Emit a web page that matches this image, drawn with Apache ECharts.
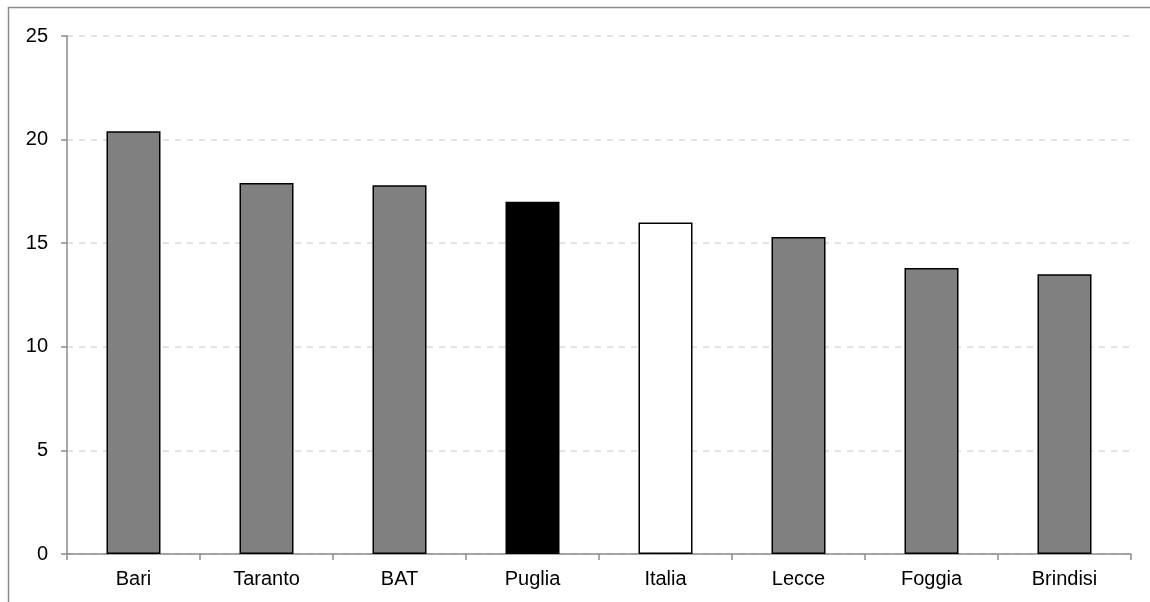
<!DOCTYPE html>
<html>
<head>
<meta charset="utf-8">
<script src="https://cdn.jsdelivr.net/npm/echarts@6/dist/echarts.min.js"></script>
<style>
  html, body { margin: 0; padding: 0; background: #fff; }
  #chart { width: 1150px; height: 602px; }
</style>
</head>
<body>
<div id="chart"></div>
<script>
// Provinces of Puglia compared with the regional and national figures
const categories = ['Bari', 'Taranto', 'BAT', 'Puglia', 'Italia', 'Lecce', 'Foggia', 'Brindisi'];
const values = [20.4, 17.9, 17.8, 17.0, 16.0, 15.3, 13.8, 13.5];
const barColors = ['#808080', '#808080', '#808080', '#000000', '#ffffff', '#808080', '#808080', '#808080'];
const yTicks = [0, 5, 10, 15, 20, 25];

const chart = echarts.init(document.getElementById('chart'), null, { renderer: 'canvas' });

const font = { fontFamily: 'Liberation Sans, Arial, sans-serif', fontSize: 20, color: '#000' };

chart.setOption({
  animation: false,
  backgroundColor: '#fff',
  graphic: [{
    type: 'rect',
    shape: { x: 8.5, y: 7.5, width: 1200, height: 700 },
    style: { fill: 'none', stroke: '#8c8c8c', lineWidth: 1.5 },
    silent: true,
    z: 100
  }],
  grid: { left: 67, right: 19, top: 36, bottom: 48 },
  xAxis: {
    type: 'category',
    data: categories,
    axisLine: { show: true, lineStyle: { color: '#8c8c8c', width: 1.5 } },
    axisTick: { show: true, alignWithLabel: false, length: 6, lineStyle: { color: '#8c8c8c', width: 1.5 } },
    axisLabel: Object.assign({ margin: 15 }, font),
    splitLine: { show: false }
  },
  yAxis: {
    type: 'value',
    min: yTicks[0],
    max: yTicks[yTicks.length - 1],
    interval: 5,
    axisLine: { show: true, lineStyle: { color: '#8c8c8c', width: 1.5 } },
    axisTick: { show: true, length: 6, lineStyle: { color: '#8c8c8c', width: 1.5 } },
    axisLabel: Object.assign({ margin: 19 }, font),
    splitLine: { show: true, lineStyle: { color: '#d9d9d9', width: 1.5, type: [6, 6] } }
  },
  series: [{
    type: 'bar',
    barWidth: 54,
    data: values.map((v, i) => ({
      value: v,
      itemStyle: { color: barColors[i], borderColor: '#000', borderWidth: 1.5 }
    }))
  }]
});
</script>
</body>
</html>
